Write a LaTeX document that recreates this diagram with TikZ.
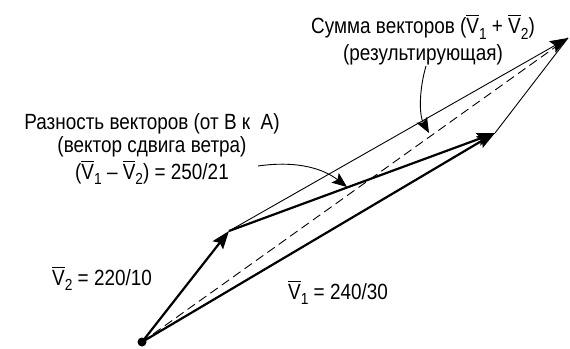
\documentclass[tikz,border=0pt]{standalone}
\usepackage{amsmath}
\usepackage{fontspec}
\setmainfont{Liberation Sans}[FakeStretch=0.86]
\usetikzlibrary{arrows.meta,positioning,calc}
\newcommand{\vb}[1]{$\overline{\text{V}}$\raisebox{-0.45ex}{\fontsize{16}{16}\selectfont #1}}
\tikzset{
    vec/.style={line width=2.2pt, -{Stealth[length=18pt,width=13pt,inset=3pt]}},
    thinvec/.style={line width=0.9pt},
    lbl/.style={font=\fontsize{22}{23}\selectfont, align=center, inner sep=0pt},
    callout/.style={line width=0.9pt, -{Stealth[length=15pt,width=12pt,inset=3pt]}}
}
\begin{document}
\begin{tikzpicture}[x=1pt, y=-1pt]
    \useasboundingbox (0,0) rectangle (570,348);

    % Vector end points
    \coordinate (O) at (142,342);
    \coordinate (A) at (229,231);
    \coordinate (B) at (495,133);
    \coordinate (C) at (568,38);

    % Parallelogram sides and resultant
    \draw[thinvec, dash pattern=on 9pt off 5pt] (O) -- (C);
    \draw[thinvec] (B) -- (C);
    \draw[thinvec, -{Stealth[length=18pt,width=13pt,inset=3pt]}] (A) -- (C);

    % Main vectors
    \draw[vec] (O) -- (A);
    \draw[vec] (O) -- (B);
    \draw[vec] (A) -- (B);
    \fill (O) circle (4.5pt);

    % Labels
    \node[lbl] (sum) at (423,40) {Сумма векторов (\vb{1} + \vb{2})\\[4pt](результирующая)};
    \node[lbl] (diff) at (152,149) {Разность векторов (от В к \ А)\\(вектор сдвига ветра)\\[2pt](\vb{1} – \vb{2}) = 250/21};
    \node[lbl, anchor=west] (v2) at (52,278) {\vb{2} = 220/10};
    \node[lbl, anchor=west] (v1) at (288,292) {\vb{1} = 240/30};

    % Callouts
    \coordinate (sumfrom) at (426,66);
    \coordinate (sumtip) at (429,133);
    \coordinate (difffrom) at (258,166);
    \coordinate (difftip) at (347,187);
    \draw[callout] (sumfrom) .. controls (419,90) and (419,115) .. (sumtip);
    \draw[callout] (difffrom) .. controls (300,160) and (325,170) .. (difftip);
\end{tikzpicture}
\end{document}
